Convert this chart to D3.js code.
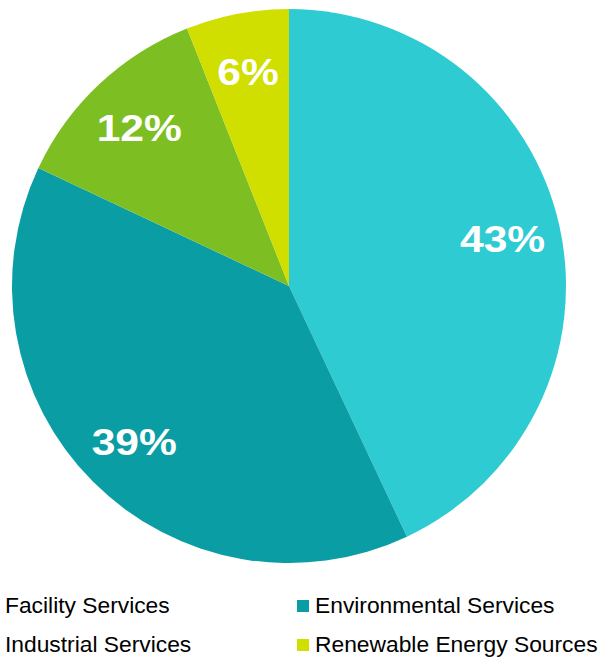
<!DOCTYPE html>
<html>
<head>
<meta charset="utf-8">
<script src="https://cdn.jsdelivr.net/npm/d3@7"></script>
<style>
  body { margin: 0; background: #fff; overflow: hidden; }
  svg { display: block; }
</style>
</head>
<body>
<svg></svg>
<script>
let categories = ['Facility Services', 'Environmental Services', 'Industrial Services', 'Renewable Energy Sources'];
let values = [43, 39, 12, 6];
let colors = ['#2ecbd2', '#0a9ea4', '#7dbf22', '#d0de00'];

let w = 603;
let h = 658;
let cx = 289;
let cy = 286;
let r = 277;

let svg = d3.select('svg')
            .attr('width', w)
            .attr('height', h);

let color = d3.scaleOrdinal()
              .domain(categories)
              .range(colors);

let pie = d3.pie()
            .sort(null)
            .value(d => d.value);

let data = categories.map((c, i) => ({ name: c, value: values[i] }));
let arcs = pie(data);

let arc = d3.arc().innerRadius(0).outerRadius(r);
let labelArc = d3.arc().innerRadius(r * 0.79).outerRadius(r * 0.79);

let g = svg.append('g')
           .attr('transform', 'translate(' + cx + ',' + cy + ')');

g.selectAll('path')
 .data(arcs)
 .enter()
 .append('path')
 .attr('d', arc)
 .attr('fill', d => color(d.data.name));

let total = d3.sum(values);

g.selectAll('text.lbl')
 .data(arcs)
 .enter()
 .append('text')
 .attr('class', 'lbl')
 .attr('transform', d => {
   let p = labelArc.centroid(d);
   return 'translate(' + p[0] + ',' + p[1] + ') scale(1.15,1)';
 })
 .attr('text-anchor', 'middle')
 .attr('dy', '0.38em')
 .style('font-family', '"Liberation Sans", Arial, sans-serif')
 .style('font-weight', 'bold')
 .style('font-size', '37px')
 .style('fill', '#fff')
 .text(d => Math.round(d.data.value / total * 100) + '%');

// legend: two columns, the left swatches sit off the left edge
let legend = svg.append('g');
let items = legend.selectAll('g')
                  .data(data)
                  .enter()
                  .append('g')
                  .attr('transform', (d, i) => 'translate(' + (-13 + (i % 2) * 310) + ',' + (613 + Math.floor(i / 2) * 39) + ')');

items.append('rect')
     .attr('x', 0)
     .attr('y', -13)
     .attr('width', 12)
     .attr('height', 12)
     .attr('fill', d => color(d.name));

items.append('text')
     .attr('x', 18)
     .attr('y', 0)
     .style('font-family', '"Liberation Sans", Arial, sans-serif')
     .style('font-size', '22.8px')
     .style('fill', '#000')
     .text(d => d.name);
</script>
</body>
</html>
